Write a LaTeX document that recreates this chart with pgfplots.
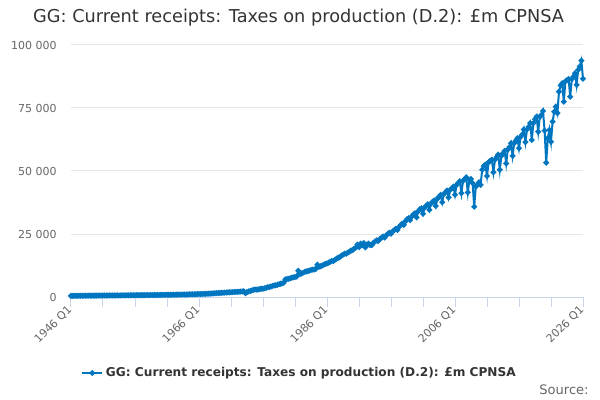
\documentclass[border=0pt]{standalone}
\usepackage{pgfplots}
\pgfplotsset{compat=1.18}
\usepackage{pgfplotstable}
\usepackage{fontspec}
\setmainfont{DejaVu Sans}
\definecolor{ons}{HTML}{0076C0}
\definecolor{gridc}{HTML}{E6E6E6}
\definecolor{axisc}{HTML}{CCD6EB}
\definecolor{lab}{HTML}{666666}
\definecolor{ttl}{HTML}{333333}

\pgfplotstableread[row sep=\\]{
v\\
440\\450\\455\\460\\
470\\475\\480\\485\\
500\\510\\515\\520\\
525\\530\\535\\540\\
545\\550\\560\\565\\
575\\585\\595\\600\\
600\\605\\610\\615\\
620\\625\\630\\635\\
640\\645\\650\\655\\
665\\680\\690\\700\\
705\\715\\720\\725\\
735\\745\\750\\755\\
760\\765\\770\\775\\
785\\795\\800\\810\\
820\\835\\845\\855\\
870\\885\\895\\905\\
915\\925\\935\\940\\
945\\955\\965\\975\\
1000\\1030\\1050\\1070\\
1090\\1110\\1130\\1145\\
1160\\1190\\1210\\1230\\
1260\\1290\\1320\\1340\\
1380\\1430\\1480\\1520\\
1570\\1620\\1660\\1700\\
1740\\1790\\1830\\1870\\
1900\\1950\\1990\\2030\\
2060\\2100\\2150\\2200\\
2250\\1500\\1950\\2200\\
2400\\2600\\2800\\2950\\
2900\\3000\\3150\\3300\\
3300\\3450\\3650\\3850\\
3950\\4150\\4400\\4550\\
4650\\4850\\5050\\5250\\
5400\\5650\\6950\\7150\\
7200\\7450\\7650\\7800\\
7900\\8100\\10400\\9100\\
9300\\9600\\9950\\10150\\
10250\\10450\\10700\\10850\\
10900\\11100\\12800\\12000\\
12200\\12500\\12800\\13150\\
13300\\13600\\13950\\14300\\
14300\\14800\\15200\\15600\\
15800\\16400\\16800\\17200\\
17200\\17600\\18000\\18400\\
18600\\19200\\19600\\20800\\
19800\\21200\\20500\\21400\\
19700\\20800\\21200\\20600\\
20600\\21500\\22000\\22500\\
22200\\23000\\23500\\24000\\
23600\\24500\\25000\\25500\\
25100\\26000\\26500\\27100\\
26600\\27800\\28500\\29100\\
28600\\30000\\30800\\31300\\
30500\\32000\\32800\\33200\\
31600\\34000\\34800\\35200\\
33000\\35500\\36200\\36800\\
34600\\37000\\37800\\38300\\
36100\\39000\\39800\\40500\\
37600\\40800\\41500\\42300\\
39500\\42500\\43100\\43800\\
40600\\44500\\45200\\45900\\
41200\\46000\\46800\\47500\\
41500\\46500\\46800\\45200\\
35800\\43800\\44500\\45500\\
44500\\50500\\52000\\52500\\
48000\\53500\\54000\\54500\\
49500\\54500\\55500\\56500\\
50500\\56000\\57000\\58000\\
53000\\58500\\59500\\61000\\
56000\\61000\\62000\\63000\\
59000\\63500\\64500\\66500\\
61500\\66500\\67500\\69000\\
62300\\69000\\70500\\71600\\
65600\\71500\\72300\\73800\\
66000\\53300\\63000\\66300\\
61600\\69600\\73500\\75500\\
73000\\81500\\84000\\84800\\
77500\\85600\\86000\\86500\\
79500\\86400\\87500\\88800\\
84200\\90200\\91500\\93800\\
86600\\
}\data

\begin{document}
\begin{tikzpicture}
\path[use as bounding box] (0pt,0pt) rectangle (450pt,300pt);
\begin{axis}[
  at={(53.25pt,77.25pt)}, anchor=south west,
  scale only axis, width=384pt, height=189pt,
  xmin=0, xmax=320, ymin=0, ymax=100000,
  axis x line*=bottom, axis y line*=left,
  y axis line style={draw=none},
  x axis line style={draw=axisc, line width=0.75pt},
  scaled y ticks=false,
  ytick={0,25000,50000,75000,100000},
  yticklabels={0,25 000,50 000,75 000,100 000},
  ymajorgrids, major grid style={draw=gridc, line width=0.75pt},
  ytick style={draw=none},
  xtick={0,80,...,320},
  minor xtick={20,40,60,100,120,140,180,200,220,260,280,300},
  xticklabels={1946 Q1,1966 Q1,1986 Q1,2006 Q1,2026 Q1},
  xtick style={draw=axisc, line width=0.75pt},
  minor x tick style={draw=axisc, line width=0.75pt},
  major tick length=7.5pt, minor tick length=7.5pt, tick align=outside,
  tick label style={font=\fontsize{8.25}{10}\selectfont, text=lab},
  x tick label style={rotate=45, anchor=east, inner sep=1pt},
  y tick label style={xshift=0.25pt},
  legend style={at={(0.447,-0.3016)}, anchor=center, draw=none, fill=none,
    font=\bfseries\fontsize{9.1}{11}\selectfont, text=ttl},
  legend image code/.code={
    \draw[mark repeat=2,mark phase=2] plot coordinates {(0pt,0pt) (7.5pt,0pt) (15pt,0pt)};},
  legend cell align=left,
  clip=false,
]
\addplot[ons, line width=1.5pt, mark=*, mark size=1.3pt, mark options={solid}]
  table[x expr=\coordindex, y=v]{\data};
\addlegendentry{GG: Current receipts: Taxes on production (D.2): £m CPNSA}
\end{axis}
\node[font=\fontsize{13.3}{15}\selectfont, text=ttl] at (224pt,286.5pt) {GG: Current receipts: Taxes on production (D.2): £m CPNSA};
\node[anchor=east, font=\fontsize{9.8}{11}\selectfont, text=lab] at (445pt,7.5pt) {Source:};
\end{tikzpicture}
\end{document}
